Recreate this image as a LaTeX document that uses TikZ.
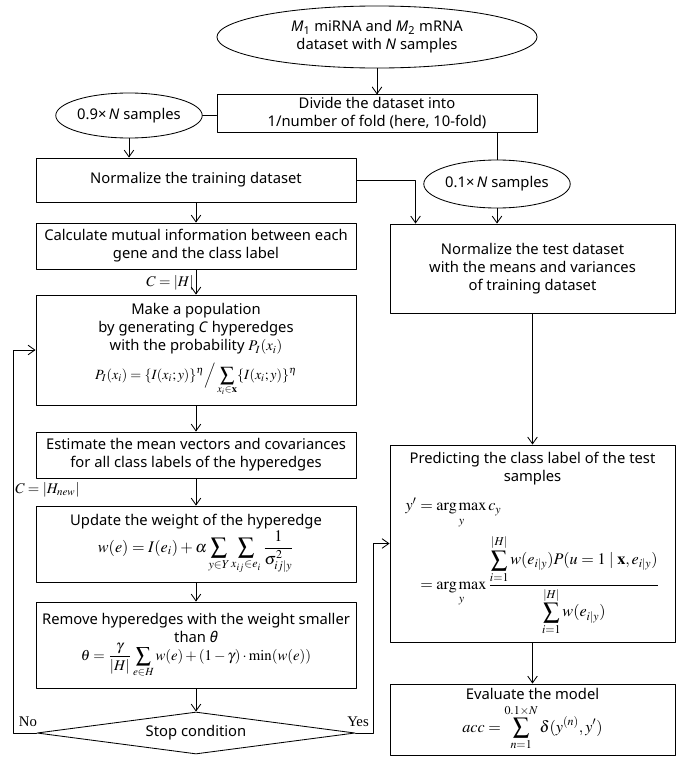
\documentclass[tikz,border=0pt]{standalone}
\usepackage{amsmath,amssymb}
\usepackage{mathptmx}
\usepackage[no-math]{fontspec}
\setmainfont{Noto Sans}
\newfontfamily\serifnote{Liberation Serif}
\usepackage{tikz}
\usetikzlibrary{arrows.meta,calc,shapes.geometric}
\tikzset{
  every picture/.append style={line cap=round,line join=round},
  hg box/.style={draw,line width=0.6pt,align=center,minimum width=8cm,inner sep=2pt},
  hg side box/.style={hg box,minimum width=7.125cm},
  hg ellipse/.style={draw,line width=0.6pt,ellipse,align=center,inner sep=0pt},
  hg diamond/.style={draw,line width=0.6pt,diamond,aspect=7.6,inner sep=0pt,
    minimum width=7.95cm,minimum height=1.05cm},
  hg arrow/.style={line width=0.6pt,-{Straight Barb[length=1.7mm,width=2.4mm]}},
  hg line/.style={line width=0.6pt},
  hg note/.style={inner sep=0pt,font=\serifnote\fontsize{10.5}{12}\selectfont}
}

\begin{document}
\begin{tikzpicture}[x=0.025cm,y=-0.025cm,font=\fontsize{10.5}{12.8}\selectfont]
  \useasboundingbox (0,0) rectangle (685,763);

  % input and fold split
  \node[hg ellipse,minimum width=8cm,minimum height=1.55cm] (data) at (377,37)
    {\textit{M}\textsubscript{1} miRNA and \textit{M}\textsubscript{2} mRNA\\dataset with \textit{N} samples};
  \node[hg box] (divide) at (377,113.5)
    {Divide the dataset into\\1/number of fold (here, 10-fold)};
  \node[hg ellipse,minimum width=3.55cm,minimum height=1.125cm] (train) at (129,115.5)
    {0.9×\,\textit{N} samples};
  \node[hg ellipse,minimum width=3.575cm,minimum height=1.2cm] (test) at (497,184)
    {0.1×\,\textit{N} samples};

  % training column
  \node[hg box,minimum height=1.1cm] (normtrain) at (196,180)
    {Normalize the training dataset};
  \node[hg box,minimum height=1.15cm] (calc) at (196,246)
    {Calculate mutual information between each\\gene and the class label};
  \node[hg box,minimum height=2.75cm] (make) at (196,350)
    {Make a population\\by generating \textit{C} hyperedges\\with the probability $P_I(x_i)$\\[5pt]
     {\fontsize{10}{12}\selectfont$\displaystyle P_I(x_i)=\{I(x_i;y)\}^{\eta}\Big/\sum_{x_i\in\mathbf{x}}\{I(x_i;y)\}^{\eta}$}};
  \node[hg box,minimum height=1.15cm] (estimate) at (196,455)
    {Estimate the mean vectors and covariances\\for all class labels of the hyperedges};
  \node[hg box,minimum height=1.9cm] (update) at (196,544)
    {Update the weight of the hyperedge\\
     {\fontsize{11.5}{14}\selectfont$\displaystyle w(e)=I(e_i)+\alpha\sum_{y\in Y}\sum_{x_{ij}\in e_i}\frac{1}{\sigma_{ij|y}^{2}}$}};
  \node[hg box,minimum height=2.15cm] (remove) at (196,645)
    {Remove hyperedges with the weight smaller\\than \textit{θ}\\
     {\fontsize{10.5}{12}\selectfont$\displaystyle \theta=\frac{\gamma}{|H|}\sum_{e\in H}w(e)+(1-\gamma)\cdot\min(w(e))$}};
  \node[hg diamond] (stop) at (196,733) {Stop condition};

  % test column
  \node[hg side box,minimum height=2.225cm] (normtest) at (532.5,268.5)
    {Normalize the test dataset\\with the means and variances\\of training dataset};
  \node[hg side box,minimum height=4.925cm] (predict) at (532.5,543.5)
    {Predicting the class label of the test\\samples\\[8pt]
     {\fontsize{11.5}{14}\selectfont$\displaystyle\begin{aligned}
       y' &= \operatorname*{arg\,max}_{y} c_y\\[1pt]
          &= \operatorname*{arg\,max}_{y}
             \frac{\displaystyle\sum_{i=1}^{|H|} w(e_{i|y})P(u=1\mid\mathbf{x},e_{i|y})}
                  {\displaystyle\sum_{i=1}^{|H|} w(e_{i|y})}
     \end{aligned}$}};
  \node[hg side box,minimum height=1.775cm] (eval) at (532.5,719.5)
    {Evaluate the model\\[3pt]
     {\fontsize{11.5}{14}\selectfont$\displaystyle acc=\sum_{n=1}^{0.1\times N}\delta(y^{(n)},y')$}};

  % labels
  \node[hg note,anchor=east] (csize) at (194,283) {$C=|H|$};
  \node[hg note,anchor=west] (cnew) at (15,490) {$C=|H_{new}|$};
  \node[hg note] (no) at (28,722) {No};
  \node[hg note] (yes) at (358,722) {Yes};

  \coordinate (loopx) at (13,733);
  \coordinate (yesx) at (373,733);

  % connectors
  \draw[hg arrow] (data) -- (divide);
  \draw[hg line] (train.east) -- (train.east -| divide.west);
  \draw[hg arrow] (train.south) -- (train.south |- normtrain.north);
  \draw[hg line] (test.north |- divide.south) -- (test.north);
  \draw[hg arrow] (test.south) -- (test.south |- normtest.north);
  \draw[hg arrow] (normtrain.east) -| ($(normtest.north west)+(26,0)$);
  \draw[hg arrow] (normtrain) -- (calc);
  \draw[hg arrow] (calc) -- (make);
  \draw[hg arrow] (make) -- (estimate);
  \draw[hg arrow] (estimate) -- (update);
  \draw[hg arrow] (update) -- (remove);
  \draw[hg arrow] (remove) -- (stop);
  \draw[hg arrow] (stop.west) -- (loopx) |- (make.west);
  \draw[hg arrow] (stop.east) -- (yesx) |- (predict.west);
  \draw[hg arrow] (normtest) -- (predict);
  \draw[hg arrow] (predict) -- (eval);
\end{tikzpicture}
\end{document}
